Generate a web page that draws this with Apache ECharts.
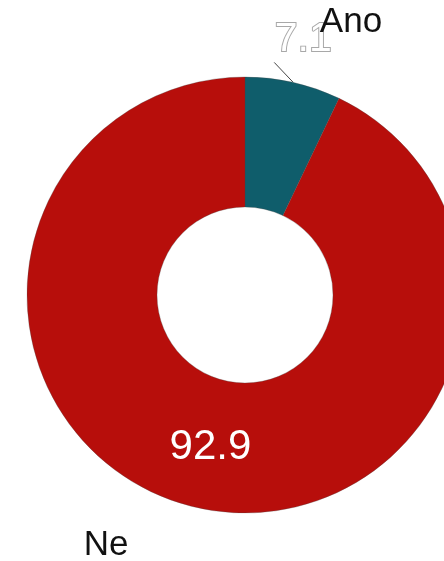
<!DOCTYPE html>
<html>
<head>
<meta charset="utf-8">
<script src="https://cdn.jsdelivr.net/npm/echarts@6/dist/echarts.min.js"></script>
<style>html,body{margin:0;padding:0;background:#fff}#c{width:444px;height:561px}</style>
</head>
<body>
<div id="c"></div>
<script>
const categories = ["Ano", "Ne"];
const values = [7.1, 92.9];
const sliceColors = ["#0f5d6b", "#b70e0b"];

const chart = echarts.init(document.getElementById('c'), null, {renderer: 'canvas'});
const CX = 245, CY = 295;
const FONT = '"Liberation Sans", Arial, sans-serif';
// name label offsets relative to pie centre
const nameOffsets = {"Ano": [106, -273], "Ne": [-139, 250]};

const valueData = categories.map((c, i) => {
  const item = {name: c, value: values[i], itemStyle: {color: sliceColors[i]}};
  if (values[i] < 20) {
    item.label = {
      position: 'outside', color: '#ffffff', fontSize: 41,
      textBorderColor: '#a8a8a8', textBorderWidth: 2
    };
    item.labelLine = {show: true, length: 10, length2: 0, lineStyle: {color: '#444', width: 1}};
  } else {
    item.label = {position: 'inside', color: '#ffffff', fontSize: 42};
    item.labelLine = {show: false};
  }
  return item;
});

chart.setOption({
  animation: false,
  series: [
    {
      type: 'pie',
      center: [CX, CY],
      radius: [88, 218],
      startAngle: 90,
      clockwise: true,
      data: valueData,
      itemStyle: {borderColor: 'rgba(70,70,70,0.5)', borderWidth: 0.6},
      label: {show: true, formatter: p => p.value.toFixed(1), fontFamily: FONT},
      labelLayout: function (params) {
        if (params.labelLinePoints && params.dataIndex === 0) {
          const p0 = params.labelLinePoints[0];
          return {
            x: p0[0] + 10, y: p0[1] - 43, align: 'center', verticalAlign: 'middle',
            labelLinePoints: [[p0[0], p0[1]], [p0[0] - 19, p0[1] - 20]]
          };
        }
        return {};
      },
      silent: true,
      z: 2
    },
    {
      type: 'pie',
      center: [CX, CY],
      radius: [88, 218],
      startAngle: 90,
      clockwise: true,
      silent: true,
      data: categories.map((c, i) => ({name: c, value: values[i]})),
      itemStyle: {color: 'rgba(0,0,0,0)'},
      label: {
        show: true, position: 'outside', formatter: '{b}',
        color: '#111', fontSize: 35, fontFamily: FONT
      },
      labelLine: {show: false},
      labelLayout: function (params) {
        const off = nameOffsets[categories[params.dataIndex]];
        return {x: CX + off[0], y: CY + off[1], align: 'center', verticalAlign: 'middle'};
      },
      z: 3
    }
  ]
});
</script>
</body>
</html>
